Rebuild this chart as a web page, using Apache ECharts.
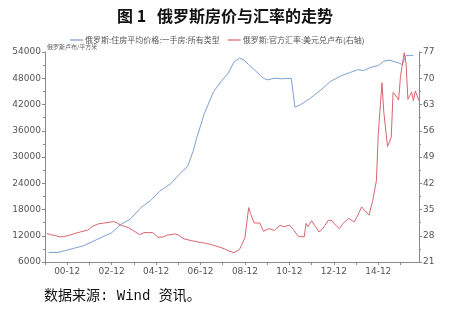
<!DOCTYPE html>
<html><head><meta charset="utf-8">
<script src="https://cdn.jsdelivr.net/npm/echarts@6/dist/echarts.min.js"></script>
<style>html,body{margin:0;padding:0;background:#fff}#c{width:450px;height:309px}</style>
</head><body><div id="c"></div>
<script>
// x-axis: monthly categories, 1999-12 .. 2016-10
const firstMonth = '1999-12';
const lastMonth = '2016-10';
const tickLabels = ['00-12','02-12','04-12','06-12','08-12','10-12','12-12','14-12'];

// 俄罗斯:住房平均价格:一手房:所有类型 (卢布/平方米)
const priceDates = ['2000-02','2000-07','2001-02','2001-09','2002-04','2002-12','2003-05','2003-10','2004-04','2004-09','2005-02','2005-08','2006-01','2006-05','2006-08','2006-10','2007-02','2007-07','2007-11','2008-03','2008-06','2008-09','2008-11','2009-02','2009-06','2009-10','2009-12','2010-04','2010-08','2011-01','2011-03','2011-06','2011-11','2012-05','2012-10','2013-04','2013-09','2014-01','2014-04','2014-08','2014-12','2015-03','2015-06','2015-11','2016-01','2016-03','2016-07'];
const priceValues = [8170,8170,8960,9730,11130,12690,14620,15790,18510,20050,22200,23940,26270,27830,31330,34430,39860,44900,47240,49180,51670,52600,52300,51130,49570,48000,47630,48000,47870,48000,41400,41950,43350,45300,47240,48570,49340,49970,49730,50500,50900,51900,52130,51500,51130,53230,53230];

// 俄罗斯:官方汇率:美元兑卢布 (右轴)
const rateDates = ['2000-01','2000-03','2000-06','2000-08','2000-10','2001-01','2001-04','2001-07','2001-11','2002-02','2002-05','2002-08','2002-11','2003-01','2003-03','2003-05','2003-09','2003-12','2004-03','2004-06','2004-08','2004-10','2005-01','2005-04','2005-06','2005-08','2005-10','2005-12','2006-03','2006-07','2006-12','2007-03','2007-06','2007-10','2008-01','2008-03','2008-06','2008-07','2008-09','2008-10','2008-12','2009-02','2009-03','2009-05','2009-08','2009-10','2010-01','2010-04','2010-07','2010-09','2010-12','2011-02','2011-05','2011-08','2011-09','2011-10','2011-12','2012-02','2012-04','2012-06','2012-09','2012-11','2012-12','2013-03','2013-05','2013-08','2013-11','2014-01','2014-03','2014-04','2014-07','2014-09','2014-11','2014-12','2015-02','2015-03','2015-05','2015-07','2015-08','2015-10','2015-11','2015-12','2016-02','2016-03','2016-04','2016-06','2016-07','2016-08','2016-10'];
const rateValues = [28.6,28.3,28.0,27.7,27.8,28.1,28.6,29.0,29.5,30.6,31.2,31.4,31.6,31.8,31.4,30.8,30.2,29.3,28.3,28.9,28.8,28.9,27.6,27.7,28.2,28.3,28.5,28.2,27.2,26.7,26.2,26.0,25.6,25.0,24.5,24.0,23.5,23.3,24.3,25.3,27.5,35.5,33.9,31.4,31.4,29.2,29.9,29.4,30.8,30.4,30.8,29.7,27.8,27.7,31.3,30.4,32.0,30.5,29.0,29.9,32.1,32.1,31.3,29.9,31.3,32.6,31.7,33.5,35.7,35.7,33.5,37.4,42.7,55.1,68.8,60.9,51.8,54.2,66.2,65.0,64.2,70.5,76.8,74.0,64.4,66.3,64.0,66.6,64.0];

const months = [];
for (let y = 1999; y <= 2016; y++) {
  for (let m = 1; m <= 12; m++) {
    const s = y + '-' + (m < 10 ? '0' + m : '' + m);
    if (s >= firstMonth && s <= lastMonth) months.push(s);
  }
}
const shortLabel = v => v.slice(2);

const chart = echarts.init(document.getElementById('c'), null, {renderer: 'canvas'});
const axisColor = '#8a8a8a';
const labelColor = '#555';
chart.setOption({
  animation: false,
  backgroundColor: '#fff',
  title: {
    text: '图 1   俄罗斯房价与汇率的走势',
    left: 'center', top: 3,
    textStyle: {fontFamily: 'Noto Sans CJK SC', fontSize: 16, fontWeight: 'bold', color: '#111'}
  },
  legend: {
    left: 70, top: 36, padding: 0,
    itemWidth: 13, itemHeight: 1.2, itemGap: 8,
    icon: 'rect',
    textStyle: {fontFamily: 'Noto Sans CJK SC', fontSize: 8, color: '#555', padding: [0,0,0,-3]},
    data: ['俄罗斯:住房平均价格:一手房:所有类型', '俄罗斯:官方汇率:美元兑卢布(右轴)']
  },
  grid: {left: 45, right: 31, top: 52, bottom: 47, containLabel: false},
  xAxis: {
    type: 'category', data: months, boundaryGap: false,
    axisLine: {lineStyle: {color: axisColor, width: 1}},
    axisTick: {length: 3, lineStyle: {color: axisColor},
      interval: (i, v) => v.slice(5) === '12'},
    axisLabel: {color: labelColor, fontSize: 9, fontFamily: 'DejaVu Sans', margin: 5,
      interval: (i, v) => tickLabels.indexOf(shortLabel(v)) >= 0,
      formatter: shortLabel},
    splitLine: {show: false}
  },
  yAxis: [{
    type: 'value', min: 6000, max: 54000, interval: 6000,
    name: '俄罗斯卢布/平方米', nameLocation: 'end', nameGap: 2,
    nameTextStyle: {fontFamily: 'Noto Sans CJK SC', fontSize: 6, color: '#666', align: 'left', padding: [0,0,0,2]},
    axisLine: {show: true, lineStyle: {color: axisColor}},
    axisTick: {show: true, length: 3, lineStyle: {color: axisColor}},
    minorTick: {show: true, splitNumber: 2, length: 2, lineStyle: {color: axisColor}},
    axisLabel: {color: labelColor, fontSize: 9, fontFamily: 'DejaVu Sans', margin: 4,
      formatter: v => String(v)},
    splitLine: {show: false}
  }, {
    type: 'value', min: 21, max: 77, interval: 7, position: 'right',
    axisLine: {show: true, lineStyle: {color: axisColor}},
    axisTick: {show: true, length: 3, lineStyle: {color: axisColor}},
    minorTick: {show: true, splitNumber: 2, length: 2, lineStyle: {color: axisColor}},
    axisLabel: {color: labelColor, fontSize: 9, fontFamily: 'DejaVu Sans', margin: 4,
      formatter: v => String(v)},
    splitLine: {show: false}
  }],
  series: [{
    name: '俄罗斯:住房平均价格:一手房:所有类型',
    type: 'line', yAxisIndex: 0, symbol: 'none', smooth: false,
    lineStyle: {color: '#7f9fd2', width: 1}, itemStyle: {color: '#7f9fd2'},
    data: priceDates.map((d, i) => [d, priceValues[i]])
  }, {
    name: '俄罗斯:官方汇率:美元兑卢布(右轴)',
    type: 'line', yAxisIndex: 1, symbol: 'none', smooth: false,
    lineStyle: {color: '#d9646e', width: 1}, itemStyle: {color: '#d9646e'},
    data: rateDates.map((d, i) => [d, rateValues[i]])
  }],
  graphic: [{
    type: 'text', left: 44, top: 289,
    style: {text: '数据来源: Wind 资讯。', fontFamily: '"Liberation Mono", "Noto Sans CJK SC"', fontSize: 14, fill: '#111'}
  }]
});
</script></body></html>
